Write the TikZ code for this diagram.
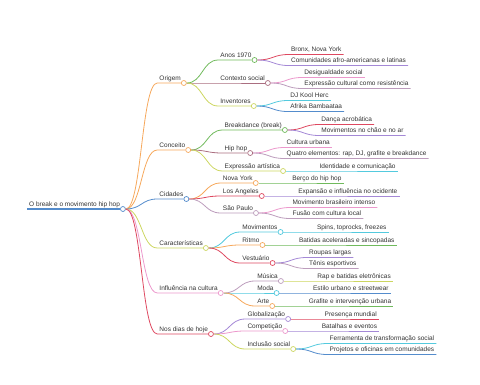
\documentclass[tikz,border=0pt]{standalone}
\usepackage{fontspec}
\setmainfont{Liberation Sans}
\usepackage{tikz}
\usetikzlibrary{positioning}
\definecolor{txtgray}{RGB}{51,51,51}
\definecolor{cBlue}{RGB}{84,140,204}
\definecolor{cOrange}{RGB}{246,168,92}
\definecolor{cGreen}{RGB}{112,186,92}
\definecolor{cLime}{RGB}{204,214,96}
\definecolor{cRed}{RGB}{222,72,96}
\definecolor{cPink}{RGB}{236,152,204}
\definecolor{cPurple}{RGB}{164,136,214}
\definecolor{cCyan}{RGB}{84,202,222}
\definecolor{cBrown}{RGB}{170,110,128}
\definecolor{cMauve}{RGB}{188,156,188}

\begin{document}
\begin{tikzpicture}[
  font=\fontsize{6.5}{7}\selectfont,
  txt/.style={anchor=south west, inner xsep=2pt, inner ysep=1.2pt,
              text height=5pt, text depth=1.5pt, text=txtgray},
  dot/.style={circle, draw=#1, fill=white, line width=0.7pt,
              minimum size=5pt, inner sep=0pt},
  ln/.style={draw=#1, line width=0.8pt},
  link/.style={to path={.. controls +(16pt,0) and +(-16pt,0) .. (\tikztotarget)}}
]
\path[use as bounding box] (0,0) rectangle (480pt,-384pt);
\node[txt] (root) at (27pt,-209pt) {O break e o movimento hip hop};
\node[dot=cBlue, right=-2pt of root.south east] (root-c) {};
\draw[ln=cBlue, line width=1.3pt] (root.south west) -- (root-c);

\node[right=31.5pt of root-c, txt, yshift=126pt] (orig) {Origem};
\node[dot=cOrange, right=-2pt of orig.south east] (orig-c) {};
\draw[ln=cOrange] (root-c.east) to[link] (orig.south west) -- (orig-c);
\node[right=31.5pt of root-c, txt, yshift=59pt] (conc) {Conceito};
\node[dot=cOrange, right=-2pt of conc.south east] (conc-c) {};
\draw[ln=cOrange] (root-c.east) to[link] (conc.south west) -- (conc-c);
\node[right=31.5pt of root-c, txt, yshift=10pt] (cid) {Cidades};
\node[dot=cBlue, right=-2pt of cid.south east] (cid-c) {};
\draw[ln=cBlue] (root-c.east) to[link] (cid.south west) -- (cid-c);
\node[right=31.5pt of root-c, txt, yshift=-39pt] (carac) {Características};
\node[dot=cLime, right=-2pt of carac.south east] (carac-c) {};
\draw[ln=cLime] (root-c.east) to[link] (carac.south west) -- (carac-c);
\node[right=31.5pt of root-c, txt, yshift=-84pt] (infl) {Influência na cultura};
\node[dot=cPink, right=-2pt of infl.south east] (infl-c) {};
\draw[ln=cPink] (root-c.east) to[link] (infl.south west) -- (infl-c);
\node[right=31.5pt of root-c, txt, yshift=-125pt] (hoje) {Nos dias de hoje};
\node[dot=cRed, right=-2pt of hoje.south east] (hoje-c) {};
\draw[ln=cRed] (root-c.east) to[link] (hoje.south west) -- (hoje-c);

\node[right=31.5pt of orig-c, txt, yshift=23pt] (anos) {Anos 1970};
\node[dot=cGreen, right=-2pt of anos.south east] (anos-c) {};
\draw[ln=cGreen] (orig-c.east) to[link] (anos.south west) -- (anos-c);
\node[right=31.5pt of orig-c, txt] (ctx) {Contexto social};
\node[dot=cBrown, right=-2pt of ctx.south east] (ctx-c) {};
\draw[ln=cBrown] (orig-c.east) to[link] (ctx.south west) -- (ctx-c);
\node[right=31.5pt of orig-c, txt, yshift=-23pt] (inv) {Inventores};
\node[dot=cLime, right=-2pt of inv.south east] (inv-c) {};
\draw[ln=cLime] (orig-c.east) to[link] (inv.south west) -- (inv-c);

\node[right=31.5pt of conc-c, txt, yshift=20pt] (brk) {Breakdance (break)};
\node[dot=cGreen, right=-2pt of brk.south east] (brk-c) {};
\draw[ln=cGreen] (conc-c.east) to[link] (brk.south west) -- (brk-c);
\node[right=31.5pt of conc-c, txt, yshift=-3pt] (hip) {Hip hop};
\node[dot=cBrown, right=-2pt of hip.south east] (hip-c) {};
\draw[ln=cBrown] (conc-c.east) to[link] (hip.south west) -- (hip-c);
\node[right=31.5pt of conc-c, txt, yshift=-21pt] (expr) {Expressão artística};
\node[dot=cLime, right=-2pt of expr.south east] (expr-c) {};
\draw[ln=cLime] (conc-c.east) to[link] (expr.south west) -- (expr-c);

\node[right=31.5pt of cid-c, txt, yshift=16pt] (ny) {Nova York};
\node[dot=cOrange, right=-2pt of ny.south east] (ny-c) {};
\draw[ln=cOrange] (cid-c.east) to[link] (ny.south west) -- (ny-c);
\node[right=31.5pt of cid-c, txt, yshift=3pt] (la) {Los Angeles};
\node[dot=cRed, right=-2pt of la.south east] (la-c) {};
\draw[ln=cRed] (cid-c.east) to[link] (la.south west) -- (la-c);
\node[right=31.5pt of cid-c, txt, yshift=-14pt] (sp) {São Paulo};
\node[dot=cMauve, right=-2pt of sp.south east] (sp-c) {};
\draw[ln=cMauve] (cid-c.east) to[link] (sp.south west) -- (sp-c);

\node[right=31.5pt of carac-c, txt, yshift=16pt] (mov) {Movimentos};
\node[dot=cCyan, right=-2pt of mov.south east] (mov-c) {};
\draw[ln=cCyan] (carac-c.east) to[link] (mov.south west) -- (mov-c);
\node[right=31.5pt of carac-c, txt, yshift=3pt] (rit) {Ritmo};
\node[dot=cOrange, right=-2pt of rit.south east] (rit-c) {};
\draw[ln=cOrange] (carac-c.east) to[link] (rit.south west) -- (rit-c);
\node[right=31.5pt of carac-c, txt, yshift=-15pt] (vest) {Vestuário};
\node[dot=cRed, right=-2pt of vest.south east] (vest-c) {};
\draw[ln=cRed] (carac-c.east) to[link] (vest.south west) -- (vest-c);

\node[right=31.5pt of infl-c, txt, yshift=12pt] (mus) {Música};
\node[dot=cMauve, right=-2pt of mus.south east] (mus-c) {};
\draw[ln=cMauve] (infl-c.east) to[link] (mus.south west) -- (mus-c);
\node[right=31.5pt of infl-c, txt] (moda) {Moda};
\node[dot=cCyan, right=-2pt of moda.south east] (moda-c) {};
\draw[ln=cCyan] (infl-c.east) to[link] (moda.south west) -- (moda-c);
\node[right=31.5pt of infl-c, txt, yshift=-13pt] (arte) {Arte};
\node[dot=cOrange, right=-2pt of arte.south east] (arte-c) {};
\draw[ln=cOrange] (infl-c.east) to[link] (arte.south west) -- (arte-c);

\node[right=31.5pt of hoje-c, txt, yshift=15pt] (glob) {Globalização};
\node[dot=cPurple, right=-2pt of glob.south east] (glob-c) {};
\draw[ln=cPurple] (hoje-c.east) to[link] (glob.south west) -- (glob-c);
\node[right=31.5pt of hoje-c, txt, yshift=3pt] (comp) {Competição};
\node[dot=cPink, right=-2pt of comp.south east] (comp-c) {};
\draw[ln=cPink] (hoje-c.east) to[link] (comp.south west) -- (comp-c);
\node[right=31.5pt of hoje-c, txt, yshift=-15pt] (incl) {Inclusão social};
\node[dot=cLime, right=-2pt of incl.south east] (incl-c) {};
\draw[ln=cLime] (hoje-c.east) to[link] (incl.south west) -- (incl-c);

\node[right=31.5pt of anos-c, txt, yshift=5.5pt] (bronx) {Bronx, Nova York};
\draw[ln=cRed] (anos-c.east) to[link] (bronx.south west) -- (bronx.south east);
\node[right=31.5pt of anos-c, txt, yshift=-5.5pt] (afro) {Comunidades afro-americanas e latinas};
\draw[ln=cPurple] (anos-c.east) to[link] (afro.south west) -- (afro.south east);
\node[right=31.5pt of ctx-c, txt, yshift=5.5pt] (desig) {Desigualdade social};
\draw[ln=cPink] (ctx-c.east) to[link] (desig.south west) -- (desig.south east);
\node[right=31.5pt of ctx-c, txt, yshift=-5.5pt] (resist) {Expressão cultural como resistência};
\draw[ln=cMauve] (ctx-c.east) to[link] (resist.south west) -- (resist.south east);
\node[right=31.5pt of inv-c, txt, yshift=5.5pt] (herc) {DJ Kool Herc};
\draw[ln=cCyan] (inv-c.east) to[link] (herc.south west) -- (herc.south east);
\node[right=31.5pt of inv-c, txt, yshift=-5.5pt] (bamb) {Afrika Bambaataa};
\draw[ln=cBlue] (inv-c.east) to[link] (bamb.south west) -- (bamb.south east);

\node[right=31.5pt of brk-c, txt, yshift=5.5pt] (acro) {Dança acrobática};
\draw[ln=cRed] (brk-c.east) to[link] (acro.south west) -- (acro.south east);
\node[right=31.5pt of brk-c, txt, yshift=-5.5pt] (chao) {Movimentos no chão e no ar};
\draw[ln=cPurple] (brk-c.east) to[link] (chao.south west) -- (chao.south east);
\node[right=31.5pt of hip-c, txt, yshift=5.5pt] (urb) {Cultura urbana};
\draw[ln=cPink] (hip-c.east) to[link] (urb.south west) -- (urb.south east);
\node[right=31.5pt of hip-c, txt, yshift=-5.5pt] (quatro) {Quatro elementos: rap, DJ, grafite e breakdance};
\draw[ln=cMauve] (hip-c.east) to[link] (quatro.south west) -- (quatro.south east);
\node[right=31.5pt of expr-c, txt] (ident) {Identidade e comunicação};
\draw[ln=cCyan] (expr-c.east) -- (ident.south west) -- (ident.south east);

\node[right=31.5pt of ny-c, txt] (berco) {Berço do hip hop};
\draw[ln=cGreen] (ny-c.east) -- (berco.south west) -- (berco.south east);
\node[right=31.5pt of la-c, txt] (expan) {Expansão e influência no ocidente};
\draw[ln=cPurple] (la-c.east) -- (expan.south west) -- (expan.south east);
\node[right=31.5pt of sp-c, txt, yshift=5.5pt] (bras) {Movimento brasileiro intenso};
\draw[ln=cPink] (sp-c.east) to[link] (bras.south west) -- (bras.south east);
\node[right=31.5pt of sp-c, txt, yshift=-5.5pt] (fusao) {Fusão com cultura local};
\draw[ln=cMauve] (sp-c.east) to[link] (fusao.south west) -- (fusao.south east);

\node[right=31.5pt of mov-c, txt] (spins) {Spins, toprocks, freezes};
\draw[ln=cCyan] (mov-c.east) -- (spins.south west) -- (spins.south east);
\node[right=31.5pt of rit-c, txt] (batid) {Batidas aceleradas e sincopadas};
\draw[ln=cGreen] (rit-c.east) -- (batid.south west) -- (batid.south east);
\node[right=31.5pt of vest-c, txt, yshift=5.5pt] (roup) {Roupas largas};
\draw[ln=cPurple] (vest-c.east) to[link] (roup.south west) -- (roup.south east);
\node[right=31.5pt of vest-c, txt, yshift=-5.5pt] (tenis) {Tênis esportivos};
\draw[ln=cMauve] (vest-c.east) to[link] (tenis.south west) -- (tenis.south east);

\node[right=31.5pt of mus-c, txt] (rap) {Rap e batidas eletrônicas};
\draw[ln=cLime] (mus-c.east) -- (rap.south west) -- (rap.south east);
\node[right=31.5pt of moda-c, txt] (estilo) {Estilo urbano e streetwear};
\draw[ln=cBlue] (moda-c.east) -- (estilo.south west) -- (estilo.south east);
\node[right=31.5pt of arte-c, txt] (graf) {Grafite e intervenção urbana};
\draw[ln=cGreen] (arte-c.east) -- (graf.south west) -- (graf.south east);

\node[right=31.5pt of glob-c, txt] (pres) {Presença mundial};
\draw[ln=cRed] (glob-c.east) -- (pres.south west) -- (pres.south east);
\node[right=31.5pt of comp-c, txt] (batal) {Batalhas e eventos};
\draw[ln=cPurple] (comp-c.east) -- (batal.south west) -- (batal.south east);
\node[right=31.5pt of incl-c, txt, yshift=5.5pt] (ferr) {Ferramenta de transformação social};
\draw[ln=cCyan] (incl-c.east) to[link] (ferr.south west) -- (ferr.south east);
\node[right=31.5pt of incl-c, txt, yshift=-5.5pt] (proj) {Projetos e oficinas em comunidades};
\draw[ln=cBlue] (incl-c.east) to[link] (proj.south west) -- (proj.south east);
\end{tikzpicture}
\end{document}
